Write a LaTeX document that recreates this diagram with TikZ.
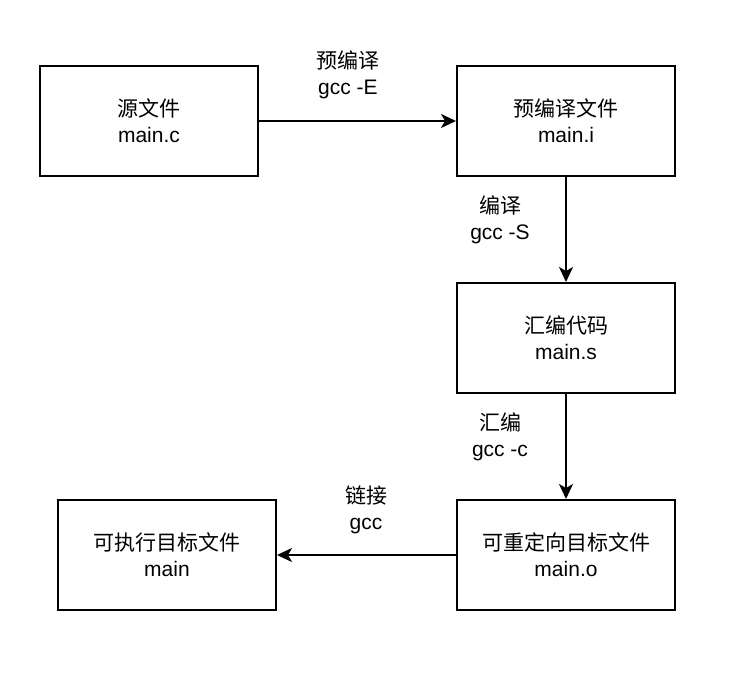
\documentclass[tikz,border=0pt]{standalone}
\usepackage{fontspec}
\setmainfont{Liberation Sans}
\newfontfamily\cjk{Noto Sans CJK SC}
\usetikzlibrary{arrows.meta}

\tikzset{every picture/.style={line width=2pt}}
\tikzset{stage/.style={draw, minimum width=218pt, minimum height=110pt, align=center, font=\fontsize{21}{26}\selectfont},
  steplabel/.style={align=center, font=\fontsize{21}{26}\selectfont},
  flow/.style={-{Stealth[length=15pt,width=14pt,inset=4pt]}}}

\begin{document}
\begin{tikzpicture}[x=1pt,y=1pt,yscale=-1,xscale=1]
\useasboundingbox (0,0) rectangle (743,674);

%Shape: Rectangle
\node[stage] (src) at (149,121) {{\cjk 源文件}\\main.c};
%Shape: Rectangle
\node[stage] (pre) at (566,121) {{\cjk 预编译文件}\\main.i};
%Shape: Rectangle
\node[stage] (asm) at (566,338) {{\cjk 汇编代码}\\main.s};
%Shape: Rectangle
\node[stage] (obj) at (566,555) {{\cjk 可重定向目标文件}\\main.o};
%Shape: Rectangle
\node[stage] (exe) at (167,555) {{\cjk 可执行目标文件}\\main};

%Straight Lines
\draw[flow] (src) -- (pre);
%Straight Lines
\draw[flow] (pre) -- (asm);
%Straight Lines
\draw[flow] (asm) -- (obj);
%Straight Lines
\draw[flow] (obj) -- (exe);

% Text Node
\node[steplabel] (lpre) at (348,75) {{\cjk 预编译}\\gcc -E};
% Text Node
\node[steplabel] (lcomp) at (500,220) {{\cjk 编译}\\gcc -S};
% Text Node
\node[steplabel] (lasm) at (500,437) {{\cjk 汇编}\\gcc -c};
% Text Node
\node[steplabel] (llink) at (366,510) {{\cjk 链接}\\gcc};

\end{tikzpicture}
\end{document}
